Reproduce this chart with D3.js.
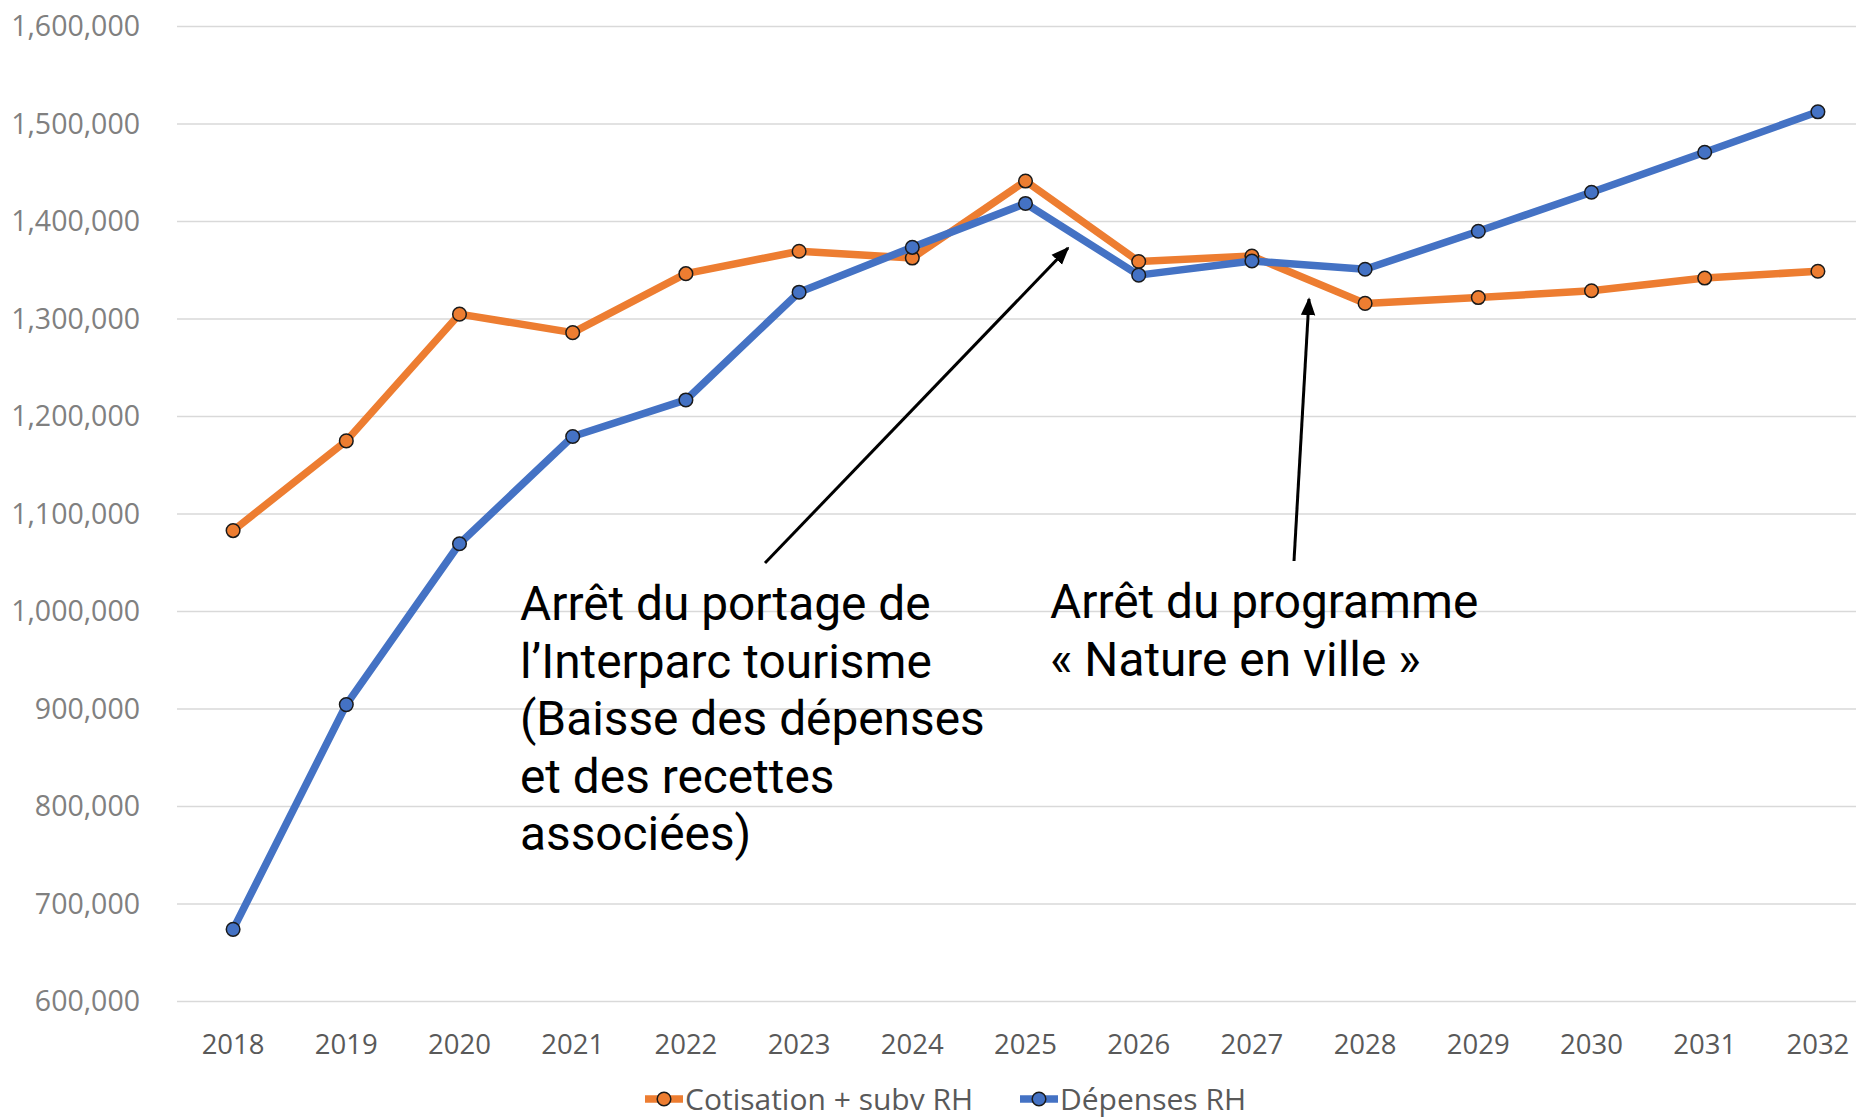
<!DOCTYPE html>
<html>
<head>
<meta charset="utf-8">
<script src="https://cdn.jsdelivr.net/npm/d3@7"></script>
<style>
  html, body { margin: 0; padding: 0; background: #fff; }
  svg { display: block; }
</style>
</head>
<body>
<svg id="chart" width="1856" height="1120"></svg>
<script>
// Years on the category axis
const years = ["2018","2019","2020","2021","2022","2023","2024","2025","2026","2027","2028","2029","2030","2031","2032"];

// Cotisation + subv RH
const cotisation = [1083000, 1175000, 1305000, 1286000, 1346500, 1369500, 1362500, 1441500, 1359000, 1364500, 1316000, 1322000, 1329000, 1342000, 1349000];

// Dépenses RH
const depenses = [674000, 904500, 1069500, 1179500, 1217000, 1327500, 1373500, 1418500, 1345000, 1359500, 1351000, 1390000, 1430000, 1471000, 1512500];

const yTicks = [600000, 700000, 800000, 900000, 1000000, 1100000, 1200000, 1300000, 1400000, 1500000, 1600000];

const seriesNames = ["Cotisation + subv RH", "Dépenses RH"];
const seriesColors = ["#ED7D31", "#4472C4"];

const notePortage = ["Arrêt du portage de", "l’Interparc tourisme", "(Baisse des dépenses", "et des recettes", "associées)"];
const noteNature = ["Arrêt du programme", "« Nature en ville »"];

const svg = d3.select("#chart");

const x = d3.scaleBand().domain(years).range([176.5, 1874.5]).padding(0);
const cx = d => x(d) + x.bandwidth() / 2;
const y = d3.scaleLinear().domain([600000, 1600000]).range([1001.5, 26.5]);

const fmt = d3.format(",");

// Horizontal gridlines
svg.append("g")
  .selectAll("line")
  .data(yTicks)
  .join("line")
  .attr("x1", 177).attr("x2", 1856)
  .attr("y1", d => y(d)).attr("y2", d => y(d))
  .attr("stroke", "#d9d9d9")
  .attr("stroke-width", 1.6);

// Value axis labels
svg.append("g")
  .selectAll("text")
  .data(yTicks)
  .join("text")
  .attr("x", 140)
  .attr("y", d => y(d))
  .attr("dy", "0.35em")
  .attr("text-anchor", "end")
  .attr("font-family", "'Open Sans', sans-serif")
  .attr("font-size", 28.5)
  .attr("fill", "#808080")
  .text(d => fmt(d));

// Category axis labels
svg.append("g")
  .selectAll("text")
  .data(years)
  .join("text")
  .attr("x", d => cx(d))
  .attr("y", 1044)
  .attr("dy", "0.35em")
  .attr("text-anchor", "middle")
  .attr("font-family", "'Open Sans', sans-serif")
  .attr("font-size", 27.5)
  .attr("fill", "#595959")
  .text(d => d);

// Series lines with circular markers
const line = d3.line().x((d, i) => cx(years[i])).y(d => y(d));
[cotisation, depenses].forEach((vals, k) => {
  const g = svg.append("g");
  g.append("path")
    .attr("d", line(vals))
    .attr("fill", "none")
    .attr("stroke", seriesColors[k])
    .attr("stroke-width", 7.5)
    .attr("stroke-linejoin", "round");
  g.selectAll("circle")
    .data(vals)
    .join("circle")
    .attr("cx", (d, i) => cx(years[i]))
    .attr("cy", d => y(d))
    .attr("r", 6.8)
    .attr("fill", seriesColors[k])
    .attr("stroke", "#1a1a1a")
    .attr("stroke-width", 1.5);
});

// Annotation arrows
const defs = svg.append("defs");
defs.append("marker")
  .attr("id", "arrowhead")
  .attr("viewBox", "0 0 10 10")
  .attr("refX", 9).attr("refY", 5)
  .attr("markerWidth", 6).attr("markerHeight", 6)
  .attr("orient", "auto")
  .attr("markerUnits", "strokeWidth")
  .append("path")
  .attr("d", "M0,1 L10,5 L0,9 Z")
  .attr("fill", "#000");

const arrows = [
  { x1: 765, y1: 563, x2: 1068, y2: 248 },
  { x1: 1294, y1: 561, x2: 1309, y2: 299 }
];
svg.append("g")
  .selectAll("line")
  .data(arrows)
  .join("line")
  .attr("x1", d => d.x1).attr("y1", d => d.y1)
  .attr("x2", d => d.x2).attr("y2", d => d.y2)
  .attr("stroke", "#000")
  .attr("stroke-width", 3)
  .attr("marker-end", "url(#arrowhead)");

// Annotation texts
function note(lines, x0, y0) {
  svg.append("text")
    .attr("font-family", "Roboto, sans-serif")
    .attr("font-size", 47.8)
    .attr("fill", "#000")
    .selectAll("tspan")
    .data(lines)
    .join("tspan")
    .attr("x", x0)
    .attr("y", (d, i) => y0 + i * 57.5)
    .text(d => d);
}
note(notePortage, 520, 620);
note(noteNature, 1050, 618);

// Legend
const legendY = 1099;
const legend = svg.append("g");
const legendItems = [
  { x: 645, name: seriesNames[0], color: seriesColors[0] },
  { x: 1020, name: seriesNames[1], color: seriesColors[1] }
];
legendItems.forEach(it => {
  legend.append("line")
    .attr("x1", it.x).attr("x2", it.x + 38)
    .attr("y1", legendY).attr("y2", legendY)
    .attr("stroke", it.color)
    .attr("stroke-width", 7.5);
  legend.append("circle")
    .attr("cx", it.x + 19).attr("cy", legendY)
    .attr("r", 6.8)
    .attr("fill", it.color)
    .attr("stroke", "#1a1a1a")
    .attr("stroke-width", 1.5);
  legend.append("text")
    .attr("x", it.x + 40)
    .attr("y", legendY)
    .attr("dy", "0.35em")
    .attr("font-family", "'Open Sans', sans-serif")
    .attr("font-size", 30)
    .attr("fill", "#595959")
    .text(it.name);
});
</script>
</body>
</html>
